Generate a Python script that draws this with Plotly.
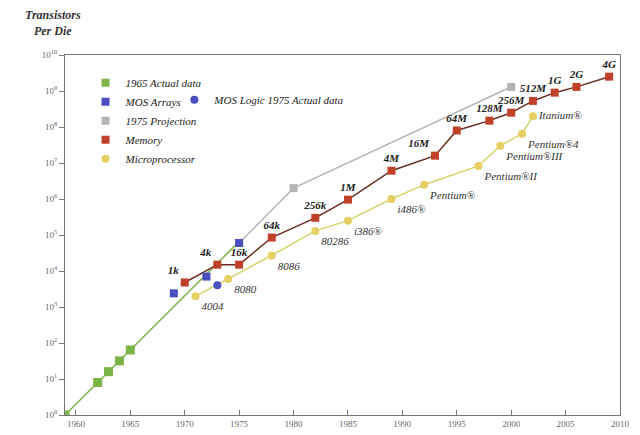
import plotly.graph_objects as go

# 1965 actual data (Moore's original points) and its extrapolated trend
actual_years = [1959, 1962, 1963, 1964, 1965]
actual_vals = [1, 8, 16, 32, 64]
trend_years = [1959, 1975]
trend_vals = [1, 65536]

# MOS arrays / MOS logic
mos_array_years = [1969, 1972, 1975]
mos_array_vals = [2400, 7000, 60000]
mos_logic_years = [1973]
mos_logic_vals = [4000]

# 1975 projection
proj_years = [1975, 1980, 2000]
proj_vals = [60000, 2.0e6, 1.3e9]

# Memory
mem_years = [1970, 1973, 1975, 1978, 1982, 1985, 1989, 1993, 1995, 1998, 2000, 2002, 2004, 2006, 2009]
mem_vals = [4.8e3, 1.5e4, 1.5e4, 8.5e4, 3.0e5, 9.6e5, 6.1e6, 1.6e7, 8.0e7, 1.5e8, 2.5e8, 5.3e8, 9.0e8, 1.3e9, 2.5e9]
mem_labels = ["1k", "4k", "16k", "64k", "256k", "1M", "4M", "16M", "64M", "128M", "256M", "512M", "1G", "2G", "4G"]
mem_pos = ["top left", "top left", "top center", "top center", "top center", "top center", "top center",
           "top left", "top center", "top center", "top center", "top center", "top center", "top center",
           "top center"]

# Microprocessor
cpu_years = [1971, 1974, 1978, 1982, 1985, 1989, 1992, 1997, 1999, 2001, 2002]
cpu_vals = [2.0e3, 6.0e3, 2.7e4, 1.3e5, 2.5e5, 1.0e6, 2.5e6, 8.3e6, 3.0e7, 6.5e7, 2.0e8]
cpu_labels = ["4004", "8080", "8086", "80286", "i386®", "i486®", "Pentium®", "Pentium®II",
              "Pentium®III", "Pentium®4", "Itanium®"]
cpu_pos = ["bottom right"] * 10 + ["middle right"]

y_exps = list(range(0, 11))
x_ticks = list(range(1960, 2011, 5))

GREEN = "#7cb547"
BLUE = "#4a4fbf"
GRAY = "#b4b4b4"
RED = "#c0412a"
RED_LINE = "#6a2b20"
YELLOW = "#e6cf63"
YELLOW_LINE = "#d6d46a"
SERIF = "Liberation Serif"

fig = go.Figure()

# lines + markers (legend handled by dummy traces below)
fig.add_trace(go.Scatter(x=trend_years, y=trend_vals, mode="lines",
                         line=dict(color=GREEN, width=1.5), showlegend=False))
fig.add_trace(go.Scatter(x=actual_years, y=actual_vals, mode="markers",
                         marker=dict(color=GREEN, symbol="square", size=9), showlegend=False))
fig.add_trace(go.Scatter(x=proj_years, y=proj_vals, mode="lines+markers",
                         line=dict(color=GRAY, width=1.5),
                         marker=dict(color=GRAY, symbol="square", size=8), showlegend=False))
fig.add_trace(go.Scatter(x=cpu_years, y=cpu_vals, mode="lines+markers+text",
                         line=dict(color=YELLOW_LINE, width=1.5),
                         marker=dict(color=YELLOW, size=8),
                         text=cpu_labels, textposition=cpu_pos,
                         textfont=dict(family=SERIF, size=11, color="#333", style="italic"),
                         showlegend=False))
fig.add_trace(go.Scatter(x=mem_years, y=mem_vals, mode="lines+markers+text",
                         line=dict(color=RED_LINE, width=1.5),
                         marker=dict(color=RED, symbol="square", size=8),
                         text=mem_labels, textposition=mem_pos,
                         textfont=dict(family=SERIF, size=11, color="#222", style="italic", weight="bold"),
                         showlegend=False))
fig.add_trace(go.Scatter(x=mos_array_years, y=mos_array_vals, mode="markers",
                         marker=dict(color=BLUE, symbol="square", size=8), showlegend=False))
fig.add_trace(go.Scatter(x=mos_logic_years, y=mos_logic_vals, mode="markers",
                         marker=dict(color=BLUE, size=8), showlegend=False))

# legend entries (markers only)
legend_items = [
    ("1965 Actual data", GREEN, "square", "legend"),
    ("MOS Arrays", BLUE, "square", "legend"),
    ("1975 Projection", GRAY, "square", "legend"),
    ("Memory", RED, "square", "legend"),
    ("Microprocessor", YELLOW, "circle", "legend"),
    ("MOS Logic 1975 Actual data", BLUE, "circle", "legend2"),
]
for name, color, sym, leg in legend_items:
    fig.add_trace(go.Scatter(x=[None], y=[None], mode="markers", name=name, legend=leg,
                             marker=dict(color=color, symbol=sym, size=8)))

leg_font = dict(family=SERIF, size=11, color="#222", style="italic")
fig.update_layout(
    width=640, height=435,
    margin=dict(l=57, r=28, t=47, b=28),
    plot_bgcolor="white", paper_bgcolor="white",
    font=dict(family=SERIF, color="#555"),
    legend=dict(x=0.037, y=0.963, xanchor="left", yanchor="top", font=leg_font,
                itemwidth=30, tracegroupgap=0, bgcolor="rgba(0,0,0,0)"),
    legend2=dict(x=0.197, y=0.916, xanchor="left", yanchor="top", font=leg_font,
                 itemwidth=30, bgcolor="rgba(0,0,0,0)"),
    annotations=[dict(text="<i><b>Transistors<br>Per Die</b></i>", x=-0.022, y=1.135,
                      xref="paper", yref="paper", xanchor="center", yanchor="top",
                      showarrow=False, align="center",
                      font=dict(family=SERIF, size=12, color="#333"))],
)
fig.update_xaxes(range=[1959, 2010], tickvals=x_ticks, ticks="inside", ticklen=5,
                 tickcolor="#777", showgrid=False, zeroline=False,
                 showline=True, linecolor="#777", linewidth=1.2, mirror=True,
                 tickfont=dict(family=SERIF, size=9, color="#666"))
fig.update_yaxes(type="log", range=[0, 10], tickvals=[10 ** e for e in y_exps],
                 ticktext=["10<sup>%d</sup>" % e for e in y_exps],
                 ticks="outside", ticklen=5, tickcolor="#777", showgrid=False, zeroline=False,
                 showline=True, linecolor="#777", linewidth=1.2, mirror=True,
                 tickfont=dict(family=SERIF, size=9, color="#666"))

fig.write_html("out.html")
